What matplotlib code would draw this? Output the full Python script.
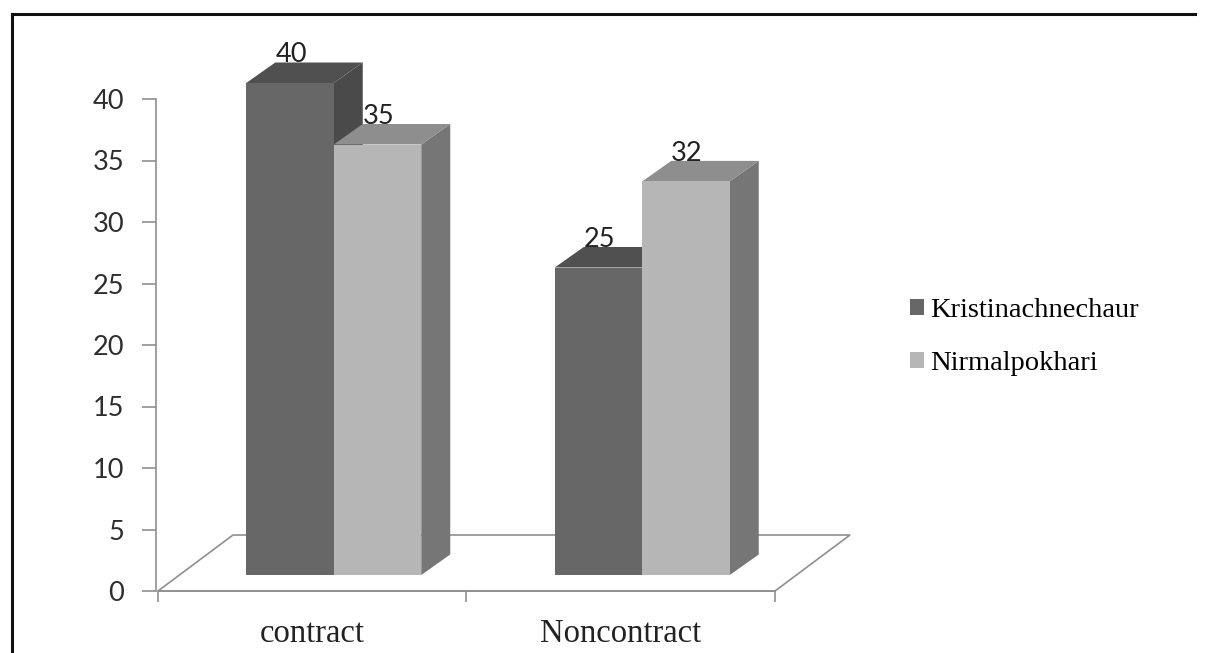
import matplotlib
matplotlib.use("Agg")
import matplotlib.pyplot as plt
from matplotlib.patches import Polygon, Patch
from matplotlib.lines import Line2D

categories = ["contract", "Noncontract"]
series_names = ["Kristinachnechaur", "Nirmalpokhari"]
values = {
    "Kristinachnechaur": [40, 25],
    "Nirmalpokhari": [35, 32],
}
yticks = [0, 5, 10, 15, 20, 25, 30, 35, 40]

W, H = 1218, 653
fig = plt.figure(figsize=(W / 100, H / 100), dpi=100)
fig.patch.set_facecolor("white")

# pixel geometry of the plot area
px_left, px_right = 156, 870
px_zero, px_top = 591, 20
sx = 308.5          # px per category unit
sy = 12.3           # px per value unit
x0 = -2 / sx
ax = fig.add_axes([px_left / W, (H - px_zero) / H,
                   (px_right - px_left) / W, (px_zero - px_top) / H])
ax.set_xlim(x0, x0 + (px_right - px_left) / sx)
ax.set_ylim(0, (px_zero - px_top) / sy)
ax.patch.set_alpha(0)

# 3D offsets in data units
floor_dx, floor_dy = 75 / sx, 56 / sy
front_dx, front_dy = 21.5 / sx, 16 / sy
bar_dx, bar_dy = 29 / sx, 20.5 / sy
bar_w = 87.5 / sx

grid_col = "#8f8f8f"
ncat = len(categories)

# floor
floor = Polygon([(0, 0), (ncat, 0), (ncat + floor_dx, floor_dy), (floor_dx, floor_dy)],
                closed=True, facecolor="none", edgecolor=grid_col, lw=1.2, zorder=1,
                clip_on=False)
ax.add_patch(floor)

front_cols = ["#676767", "#b6b6b6"]
top_cols = ["#505050", "#8e8e8e"]
side_cols = ["#4a4a4a", "#767676"]

z = 2
for c in range(ncat):
    for i, name in enumerate(series_names):
        v = values[name][c]
        xl = c + 0.5 + (i - 1) * bar_w + front_dx
        xr = xl + bar_w
        yb = front_dy
        yt = front_dy + v
        side = Polygon([(xr, yb), (xr + bar_dx, yb + bar_dy), (xr + bar_dx, yt + bar_dy), (xr, yt)],
                       closed=True, facecolor=side_cols[i], edgecolor="none", zorder=z, clip_on=False)
        top = Polygon([(xl, yt), (xr, yt), (xr + bar_dx, yt + bar_dy), (xl + bar_dx, yt + bar_dy)],
                      closed=True, facecolor=top_cols[i], edgecolor="none", zorder=z, clip_on=False)
        front = Polygon([(xl, yb), (xr, yb), (xr, yt), (xl, yt)],
                        closed=True, facecolor=front_cols[i], edgecolor="none", zorder=z, clip_on=False)
        ax.add_patch(side)
        ax.add_patch(top)
        ax.add_patch(front)
        ax.text(xl + bar_dx, yt + bar_dy, str(v), ha="left", va="baseline",
                fontsize=19.5, family="Lato", color="#222222", zorder=z + 1)
        z += 1

# axes styling
for s in ["top", "right"]:
    ax.spines[s].set_visible(False)
ax.spines["left"].set_bounds(0, 40)
ax.spines["left"].set_color(grid_col)
ax.spines["left"].set_linewidth(1.2)
ax.spines["bottom"].set_bounds(0, ncat)
ax.spines["bottom"].set_color(grid_col)
ax.spines["bottom"].set_linewidth(1.2)

ax.set_yticks(yticks)
ax.set_yticklabels([str(t) for t in yticks], family="Lato", fontsize=19.5, color="#2e2e2e")
ax.tick_params(axis="y", direction="out", length=10, width=1.2, color=grid_col, pad=13)

ax.set_xticks(range(ncat + 1))
ax.set_xticklabels([""] * (ncat + 1))
ax.tick_params(axis="x", which="major", direction="out", length=8, width=1.2, color=grid_col)
ax.set_xticks([c + 0.5 for c in range(ncat)], minor=True)
ax.set_xticklabels(categories, minor=True, family="Liberation Serif", fontsize=23.5, color="#222222")
ax.tick_params(axis="x", which="minor", length=0, pad=20)

# legend
handles = [Patch(facecolor=front_cols[i], edgecolor="none") for i in range(len(series_names))]
fig.legend(handles, series_names, loc="upper left", bbox_to_anchor=(910 / W, 1 - 298 / H),
           frameon=False, prop={"family": "Liberation Serif", "size": 20.5},
           handlelength=0.5, handleheight=0.5, handletextpad=0.2, labelspacing=0.98,
           borderaxespad=0, borderpad=0)

# outer frame
fig.add_artist(Line2D([12 / W, 1195 / W], [1 - 14 / H, 1 - 14 / H], color="#111111", lw=2.2))
fig.add_artist(Line2D([12 / W, 12 / W], [0, 1 - 14 / H], color="#111111", lw=2.2))

fig.savefig("out.png", dpi=100, facecolor="white")
